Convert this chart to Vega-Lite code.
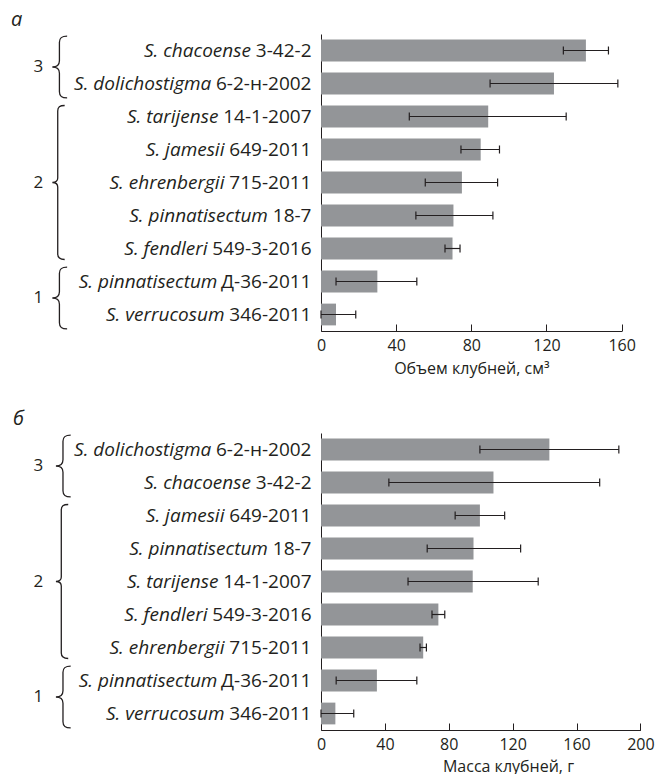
{
  "$schema": "https://vega.github.io/schema/vega-lite/v6.json",
  "background": "white",
  "padding": {"left": 11, "top": 9, "right": 0, "bottom": 0},
  "config": {
    "font": "Open Sans",
    "view": {"stroke": null},
    "scale": {"bandPaddingInner": 0.34, "bandPaddingOuter": 0.17},
    "axis": {"labelFont": "Open Sans", "titleFont": "Open Sans", "labelColor": "#231f20", "titleColor": "#231f20", "domainColor": "#231f20", "tickColor": "#231f20", "grid": false, "labelFontSize": 16, "titleFontSize": 16, "titleFontWeight": "normal", "labelLimit": 0},
    "title": {"font": "Open Sans", "color": "#231f20"}
  },
  "datasets": {
    "vol": [
      {"label": "S. chacoense 3-42-2", "mean": 141, "lo": 129, "hi": 153},
      {"label": "S. dolichostigma 6-2-н-2002", "mean": 124, "lo": 90, "hi": 158},
      {"label": "S. tarijense 14-1-2007", "mean": 89, "lo": 47, "hi": 130.5},
      {"label": "S. jamesii 649-2011", "mean": 85, "lo": 74.5, "hi": 95},
      {"label": "S. ehrenbergii 715-2011", "mean": 75, "lo": 55.5, "hi": 94},
      {"label": "S. pinnatisectum 18-7", "mean": 70.5, "lo": 50.5, "hi": 91.5},
      {"label": "S. fendleri 549-3-2016", "mean": 70, "lo": 66, "hi": 74},
      {"label": "S. pinnatisectum Д-36-2011", "mean": 30, "lo": 8, "hi": 51},
      {"label": "S. verrucosum 346-2011", "mean": 8, "lo": 0, "hi": 18.5}
    ],
    "mass": [
      {"label": "S. dolichostigma 6-2-н-2002", "mean": 143, "lo": 99.5, "hi": 186.5},
      {"label": "S. chacoense 3-42-2", "mean": 108, "lo": 42.5, "hi": 174.5},
      {"label": "S. jamesii 649-2011", "mean": 99.5, "lo": 84, "hi": 115},
      {"label": "S. pinnatisectum 18-7", "mean": 95.5, "lo": 66.5, "hi": 125},
      {"label": "S. tarijense 14-1-2007", "mean": 95, "lo": 54.5, "hi": 136},
      {"label": "S. fendleri 549-3-2016", "mean": 73.5, "lo": 69.5, "hi": 77.5},
      {"label": "S. ehrenbergii 715-2011", "mean": 64, "lo": 62, "hi": 66},
      {"label": "S. pinnatisectum Д-36-2011", "mean": 35, "lo": 9.5, "hi": 60},
      {"label": "S. verrucosum 346-2011", "mean": 9, "lo": 0, "hi": 20.5}
    ],
    "groups": [
      {"grp": "3", "mid": 1, "rows": 2},
      {"grp": "2", "mid": 4.5, "rows": 5},
      {"grp": "1", "mid": 8, "rows": 2}
    ]
  },
  "spacing": 32,
  "vconcat": [
    {
      "title": {"text": "а", "anchor": "start", "frame": "group", "fontStyle": "italic", "fontSize": 20, "fontWeight": "normal", "dx": -310, "offset": 4},
      "width": 300.6,
      "height": 297,
      "data": {"name": "vol"},
      "layer": [
        {
          "mark": {"type": "bar", "color": "#939598"},
          "encoding": {
            "y": {"field": "label", "type": "nominal", "sort": null, "axis": {"orient": "left", "title": null, "ticks": false, "domain": true, "labelPadding": 10, "labelFontSize": 19, "labelExpr": "split(datum.value,' ')[2]"}},
            "x": {"field": "mean", "type": "quantitative", "scale": {"domain": [0, 160], "nice": false}, "axis": {"title": "Объем клубней, см³", "values": [0, 40, 80, 120, 160], "tickSize": -7, "labelFlush": false, "labelPadding": 13, "titlePadding": 7}}
          }
        },
        {
          "mark": {"type": "rule", "color": "#231f20", "strokeWidth": 1.2},
          "encoding": {
            "y": {"field": "label", "type": "nominal", "sort": null, "axis": {"orient": "left", "title": null, "ticks": false, "domain": false, "labelFontSize": 19, "labelFontStyle": "italic", "labelExpr": "split(datum.value,' ')[0] + ' ' + split(datum.value,' ')[1]", "labelPadding": {"expr": "10 + 4.9 + 10.86*length(replace(split(datum.value,' ')[2], /[^0-9]/g, '')) + 6.11*length(replace(split(datum.value,' ')[2], /[^-]/g, '')) + 11.8*length(replace(split(datum.value,' ')[2], /[-0-9]/g, ''))"}}},
            "x": {"field": "lo", "type": "quantitative", "scale": {"domain": [0, 160], "nice": false}},
            "x2": {"field": "hi"}
          }
        },
        {
          "mark": {"type": "tick", "orient": "vertical", "color": "#231f20", "size": 8, "thickness": 1.2, "opacity": 1},
          "encoding": {
            "y": {"field": "label", "type": "nominal", "sort": null, "axis": null},
            "x": {"field": "lo", "type": "quantitative", "scale": {"domain": [0, 160], "nice": false}}
          }
        },
        {
          "mark": {"type": "tick", "orient": "vertical", "color": "#231f20", "size": 8, "thickness": 1.2, "opacity": 1},
          "encoding": {
            "y": {"field": "label", "type": "nominal", "sort": null, "axis": null},
            "x": {"field": "hi", "type": "quantitative", "scale": {"domain": [0, 160], "nice": false}}
          }
        },
        {
          "data": {"name": "groups"},
          "mark": {"type": "point", "filled": false, "stroke": "#231f20", "strokeWidth": 1.3, "opacity": 1},
          "encoding": {
            "y": {"field": "mid", "type": "quantitative", "scale": {"domain": [0, 9], "reverse": true, "nice": false, "zero": false}, "axis": null},
            "x": {"datum": -143, "type": "quantitative", "scale": {"domain": [0, 160], "nice": false}},
            "shape": {"field": "rows", "type": "nominal", "legend": null, "scale": {"domain": [2, 5], "range": ["M0.48,-1 C0.3,-1 0.23,-0.95 0.23,-0.8 L0.23,-0.2 C0.23,-0.07 0.15,0 0,0 C0.15,0 0.23,0.07 0.23,0.2 L0.23,0.8 C0.23,0.95 0.3,1 0.48,1", "M0.16,-1 C0.095,-1 0.07,-0.98 0.07,-0.93 L0.07,-0.06 C0.07,-0.02 0.045,0 0,0 C0.045,0 0.07,0.02 0.07,0.06 L0.07,0.93 C0.07,0.98 0.095,1 0.16,1"]}},
            "size": {"field": "rows", "type": "quantitative", "legend": null, "scale": {"type": "pow", "exponent": 2, "domain": [0, 5], "range": [0, 23716]}}
          }
        },
        {
          "data": {"name": "groups"},
          "mark": {"type": "text", "fontSize": 17, "color": "#231f20", "align": "center", "baseline": "middle"},
          "encoding": {
            "y": {"field": "mid", "type": "quantitative", "scale": {"domain": [0, 9], "reverse": true, "nice": false, "zero": false}, "axis": null},
            "x": {"datum": -150.5, "type": "quantitative", "scale": {"domain": [0, 160], "nice": false}},
            "text": {"field": "grp"}
          }
        }
      ],
      "resolve": {"scale": {"y": "independent"}, "axis": {"y": "independent"}}
    },
    {
      "title": {"text": "б", "anchor": "start", "frame": "group", "fontStyle": "italic", "fontSize": 20, "fontWeight": "normal", "dx": -308, "offset": 4},
      "width": 319.4,
      "height": 297,
      "data": {"name": "mass"},
      "layer": [
        {
          "mark": {"type": "bar", "color": "#939598"},
          "encoding": {
            "y": {"field": "label", "type": "nominal", "sort": null, "axis": {"orient": "left", "title": null, "ticks": false, "domain": true, "labelPadding": 10, "labelFontSize": 19, "labelExpr": "split(datum.value,' ')[2]"}},
            "x": {"field": "mean", "type": "quantitative", "scale": {"domain": [0, 200], "nice": false}, "axis": {"title": "Масса клубней, г", "titleX": 187, "values": [0, 20, 40, 60, 80, 100, 120, 140, 160, 180, 200], "labelExpr": "datum.value % 40 == 0 ? datum.label : ''", "tickSize": -7, "labelFlush": false, "labelPadding": 13, "titlePadding": 6}}
          }
        },
        {
          "mark": {"type": "rule", "color": "#231f20", "strokeWidth": 1.2},
          "encoding": {
            "y": {"field": "label", "type": "nominal", "sort": null, "axis": {"orient": "left", "title": null, "ticks": false, "domain": false, "labelFontSize": 19, "labelFontStyle": "italic", "labelExpr": "split(datum.value,' ')[0] + ' ' + split(datum.value,' ')[1]", "labelPadding": {"expr": "10 + 4.9 + 10.86*length(replace(split(datum.value,' ')[2], /[^0-9]/g, '')) + 6.11*length(replace(split(datum.value,' ')[2], /[^-]/g, '')) + 11.8*length(replace(split(datum.value,' ')[2], /[-0-9]/g, ''))"}}},
            "x": {"field": "lo", "type": "quantitative", "scale": {"domain": [0, 200], "nice": false}},
            "x2": {"field": "hi"}
          }
        },
        {
          "mark": {"type": "tick", "orient": "vertical", "color": "#231f20", "size": 8, "thickness": 1.2, "opacity": 1},
          "encoding": {
            "y": {"field": "label", "type": "nominal", "sort": null, "axis": null},
            "x": {"field": "lo", "type": "quantitative", "scale": {"domain": [0, 200], "nice": false}}
          }
        },
        {
          "mark": {"type": "tick", "orient": "vertical", "color": "#231f20", "size": 8, "thickness": 1.2, "opacity": 1},
          "encoding": {
            "y": {"field": "label", "type": "nominal", "sort": null, "axis": null},
            "x": {"field": "hi", "type": "quantitative", "scale": {"domain": [0, 200], "nice": false}}
          }
        },
        {
          "data": {"name": "groups"},
          "mark": {"type": "point", "filled": false, "stroke": "#231f20", "strokeWidth": 1.3, "opacity": 1},
          "encoding": {
            "y": {"field": "mid", "type": "quantitative", "scale": {"domain": [0, 9], "reverse": true, "nice": false, "zero": false}, "axis": null},
            "x": {"datum": -166, "type": "quantitative", "scale": {"domain": [0, 200], "nice": false}},
            "shape": {"field": "rows", "type": "nominal", "legend": null, "scale": {"domain": [2, 5], "range": ["M0.48,-1 C0.3,-1 0.23,-0.95 0.23,-0.8 L0.23,-0.2 C0.23,-0.07 0.15,0 0,0 C0.15,0 0.23,0.07 0.23,0.2 L0.23,0.8 C0.23,0.95 0.3,1 0.48,1", "M0.16,-1 C0.095,-1 0.07,-0.98 0.07,-0.93 L0.07,-0.06 C0.07,-0.02 0.045,0 0,0 C0.045,0 0.07,0.02 0.07,0.06 L0.07,0.93 C0.07,0.98 0.095,1 0.16,1"]}},
            "size": {"field": "rows", "type": "quantitative", "legend": null, "scale": {"type": "pow", "exponent": 2, "domain": [0, 5], "range": [0, 23716]}}
          }
        },
        {
          "data": {"name": "groups"},
          "mark": {"type": "text", "fontSize": 17, "color": "#231f20", "align": "center", "baseline": "middle"},
          "encoding": {
            "y": {"field": "mid", "type": "quantitative", "scale": {"domain": [0, 9], "reverse": true, "nice": false, "zero": false}, "axis": null},
            "x": {"datum": -177, "type": "quantitative", "scale": {"domain": [0, 200], "nice": false}},
            "text": {"field": "grp"}
          }
        }
      ],
      "resolve": {"scale": {"y": "independent"}, "axis": {"y": "independent"}}
    }
  ]
}
